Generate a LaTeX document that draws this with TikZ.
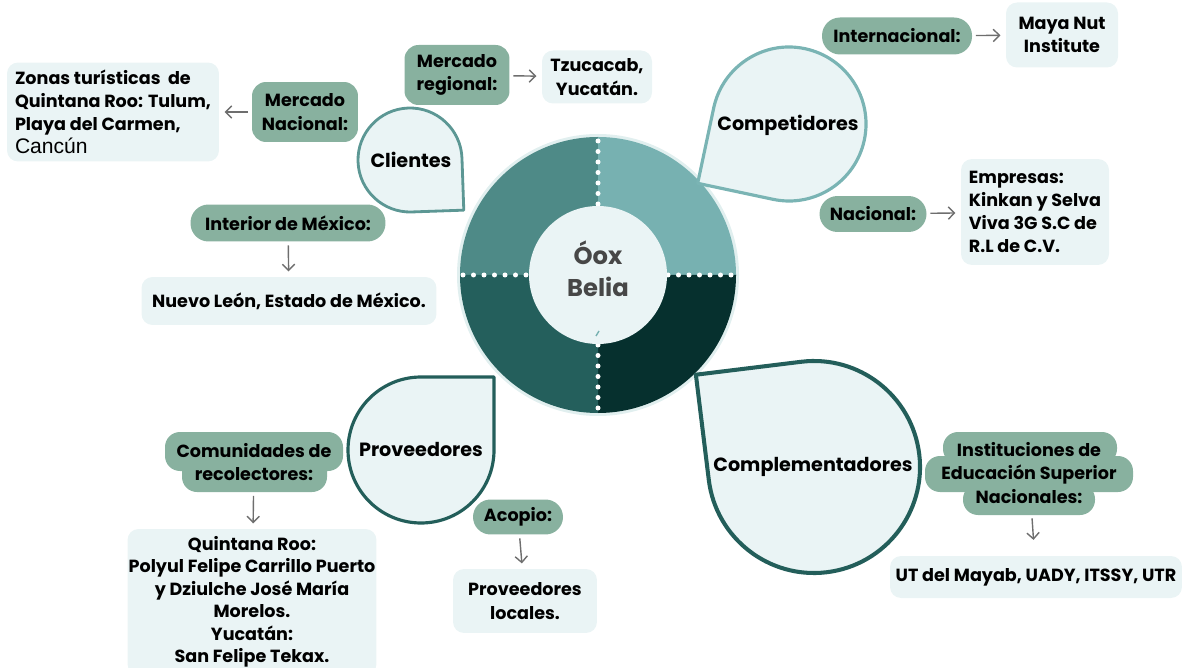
\documentclass[tikz,border=0pt]{standalone}
\usepackage{fontspec}
\setmainfont{Poppins}
\newfontfamily\plainfont{Liberation Sans}
\usepackage{xcolor}
\usetikzlibrary{calc,arrows.meta}

\definecolor{sage}{HTML}{88B19F}
\definecolor{pale}{HTML}{EAF4F5}
\definecolor{halo}{HTML}{E1EFEF}
\definecolor{tlq}{HTML}{4E8A87}
\definecolor{trq}{HTML}{77B1B1}
\definecolor{blq}{HTML}{245F5C}
\definecolor{brq}{HTML}{06302E}
\definecolor{midline}{HTML}{5C9794}
\definecolor{lightline}{HTML}{7AB4B4}
\definecolor{darkline}{HTML}{235E5A}
\definecolor{arrowgray}{HTML}{6E6E6E}
\definecolor{hubtext}{HTML}{474747}

\newcommand{\boxfont}{\bfseries\fontsize{10}{13.2}\selectfont}
\newcommand{\bubfont}{\bfseries\fontsize{10.9}{14}\selectfont}
% centre, radius, corner angle, colour, width
\newcommand{\teardrop}[5]{%
  \draw[fill=pale, draw=#4, line width=#5, line join=round] (#1) ++({#3+45}:#2)
    arc[start angle={#3+45}, end angle={#3+315}, radius=#2]
    -- ($(#1)+(#3:{1.4142*#2})$) -- cycle;}

\tikzset{
  sagebox/.style={fill=sage, rounded corners=0.28cm, align=center, inner sep=0pt, font=\boxfont},
  palebox/.style={fill=pale, rounded corners=0.22cm, align=center, inner sep=0pt, font=\boxfont},
  link/.style={-{Straight Barb[length=3.5pt, width=7pt]}, draw=arrowgray, line width=0.8pt, shorten <=2pt, shorten >=3pt},
  dots/.style={white, line width=0.1cm, line cap=round, dash pattern=on 0pt off 0.21cm}
}

\begin{document}
\begin{tikzpicture}[x=0.02cm, y=0.02cm]
		\useasboundingbox (0,0) rectangle (1185,-668);
		% HUB RING
		\fill [halo] (598,-275) circle (141);
		\fill [tlq] (598,-275) -- ++(180:138) arc [start angle=180, end angle=90, radius=138] -- cycle;
		\fill [trq] (598,-275) -- ++(90:138) arc [start angle=90, end angle=0, radius=138] -- cycle;
		\fill [brq] (598,-275) -- ++(0:138) arc [start angle=0, end angle=-90, radius=138] -- cycle;
		\fill [blq] (598,-275) -- ++(270:138) arc [start angle=270, end angle=180, radius=138] -- cycle;
		\draw [dots] (598,-141) -- (598,-206);
		\draw [dots] (598,-345) -- (598,-411);
		\draw [dots] (463,-275) -- (528,-275);
		\draw [dots] (668,-275) -- (734,-275);
		\fill [pale] (598,-275) circle (69);
		\draw [trq, line width=0.8pt] (596,-336) -- (599,-331);
		\node [font=\bfseries\fontsize{13.8}{18}\selectfont, text=hubtext, align=center] (hub) at (598,-269) {Óox\\Belia};

		% BUBBLES
		\teardrop{410,-160}{52}{-43}{midline}{1.6pt}
		\node [font=\bubfont] (clientes) at (411,-160) {Clientes};
		\teardrop{789,-124}{77}{213}{lightline}{1.8pt}
		\node [font=\bubfont] (competidores) at (788,-125) {Competidores};
		\teardrop{421,-450}{73}{45}{darkline}{1.8pt}
		\node [font=\bubfont] (proveedores) at (421,-449) {Proveedores};
		\teardrop{814,-467}{106}{142}{darkline}{2.3pt}
		\node [font=\bubfont] (complementadores) at (813,-467) {Complementadores};

		% CLIENTES
		\node [sagebox, minimum width=2.12cm, minimum height=1.2cm] (mnacional) at (305,-112) {Mercado\\Nacional:};
		\node [palebox, minimum width=4.24cm, minimum height=1.98cm, align=left] (zonas) at (113,-112)
			{Zonas turísticas\ \ de\\Quintana Roo: Tulum,\\Playa del Carmen,\\{\plainfont\mdseries\fontsize{12}{14}\selectfont Cancún}};
		\node [sagebox, minimum width=3.9cm, minimum height=0.74cm, rounded corners=0.36cm] (interior) at (288,-223) {Interior de México:};
		\node [palebox, minimum width=5.9cm, minimum height=0.96cm] (nuevoleon) at (289,-301) {Nuevo León, Estado de México.};
		\node [sagebox, minimum width=2.1cm, minimum height=1.2cm] (mregional) at (457,-75) {Mercado\\regional:};
		\node [palebox, minimum width=2.2cm, minimum height=1.06cm] (tzucacab) at (597,-77) {Tzucacab,\\Yucatán.};
		\draw [link] (mnacional) -- (zonas);
		\draw [link] (interior) -- (nuevoleon);
		\draw [link] (mregional) -- (tzucacab);

		% COMPETIDORES
		\node [sagebox, minimum width=3cm, minimum height=0.74cm, rounded corners=0.36cm] (internacional) at (897,-36) {Internacional:};
		\node [palebox, minimum width=2.24cm, minimum height=1.3cm] (mayanut) at (1062,-35) {Maya Nut\\Institute};
		\node [sagebox, minimum width=2.14cm, minimum height=0.72cm, rounded corners=0.36cm] (nacional) at (873,-214) {Nacional:};
		\node [palebox, minimum width=2.96cm, minimum height=2.12cm, align=left] (empresas) at (1035,-212)
			{Empresas:\\Kinkan y Selva\\Viva 3G S.C de\\R.L de C.V.};
		\draw [link] (internacional) -- (mayanut);
		\draw [link] (nacional) -- (empresas);

		% PROVEEDORES
		\fill [sage, rounded corners=0.3cm] (165,-432) rectangle (343,-471);
		\fill [sage, rounded corners=0.3cm] (182,-456) rectangle (327,-492);
		\node [font=\boxfont, align=center, minimum height=1.2cm] (comunidades) at (254,-462) {Comunidades de\\recolectores:};
		\node [palebox, minimum width=4.98cm, minimum height=2.92cm, font=\bfseries\fontsize{10}{12.8}\selectfont] (quintana) at (252,-602)
			{Quintana Roo:\\Polyul Felipe Carrillo Puerto\\y Dziulche José María\\Morelos.\\Yucatán:\\San Felipe Tekax.};
		\node [sagebox, minimum width=1.8cm, minimum height=0.7cm, rounded corners=0.35cm] (acopio) at (518,-517) {Acopio:};
		\node [palebox, minimum width=2.88cm, minimum height=1.28cm] (locales) at (525,-601) {Proveedores\\locales.};
		\draw [link] (comunidades) -- (quintana);
		\draw [link] (acopio) -- (locales);

		% COMPLEMENTADORES
		\fill [sage, rounded corners=0.3cm] (943,-432) rectangle (1117,-464);
		\fill [sage, rounded corners=0.3cm] (925,-456) rectangle (1133,-492);
		\fill [sage, rounded corners=0.3cm] (963,-484) rectangle (1095,-515);
		\node [font=\boxfont, align=center, minimum height=1.66cm] (instituciones) at (1029,-473)
			{Instituciones de\\Educación Superior\\Nacionales:};
		\node [palebox, minimum width=5.84cm, minimum height=0.84cm] (utr) at (1036,-577) {UT del Mayab, UADY, ITSSY, UTR};
		\draw [link, shorten >=9pt] (instituciones) -- (utr);
\end{tikzpicture}
\end{document}
